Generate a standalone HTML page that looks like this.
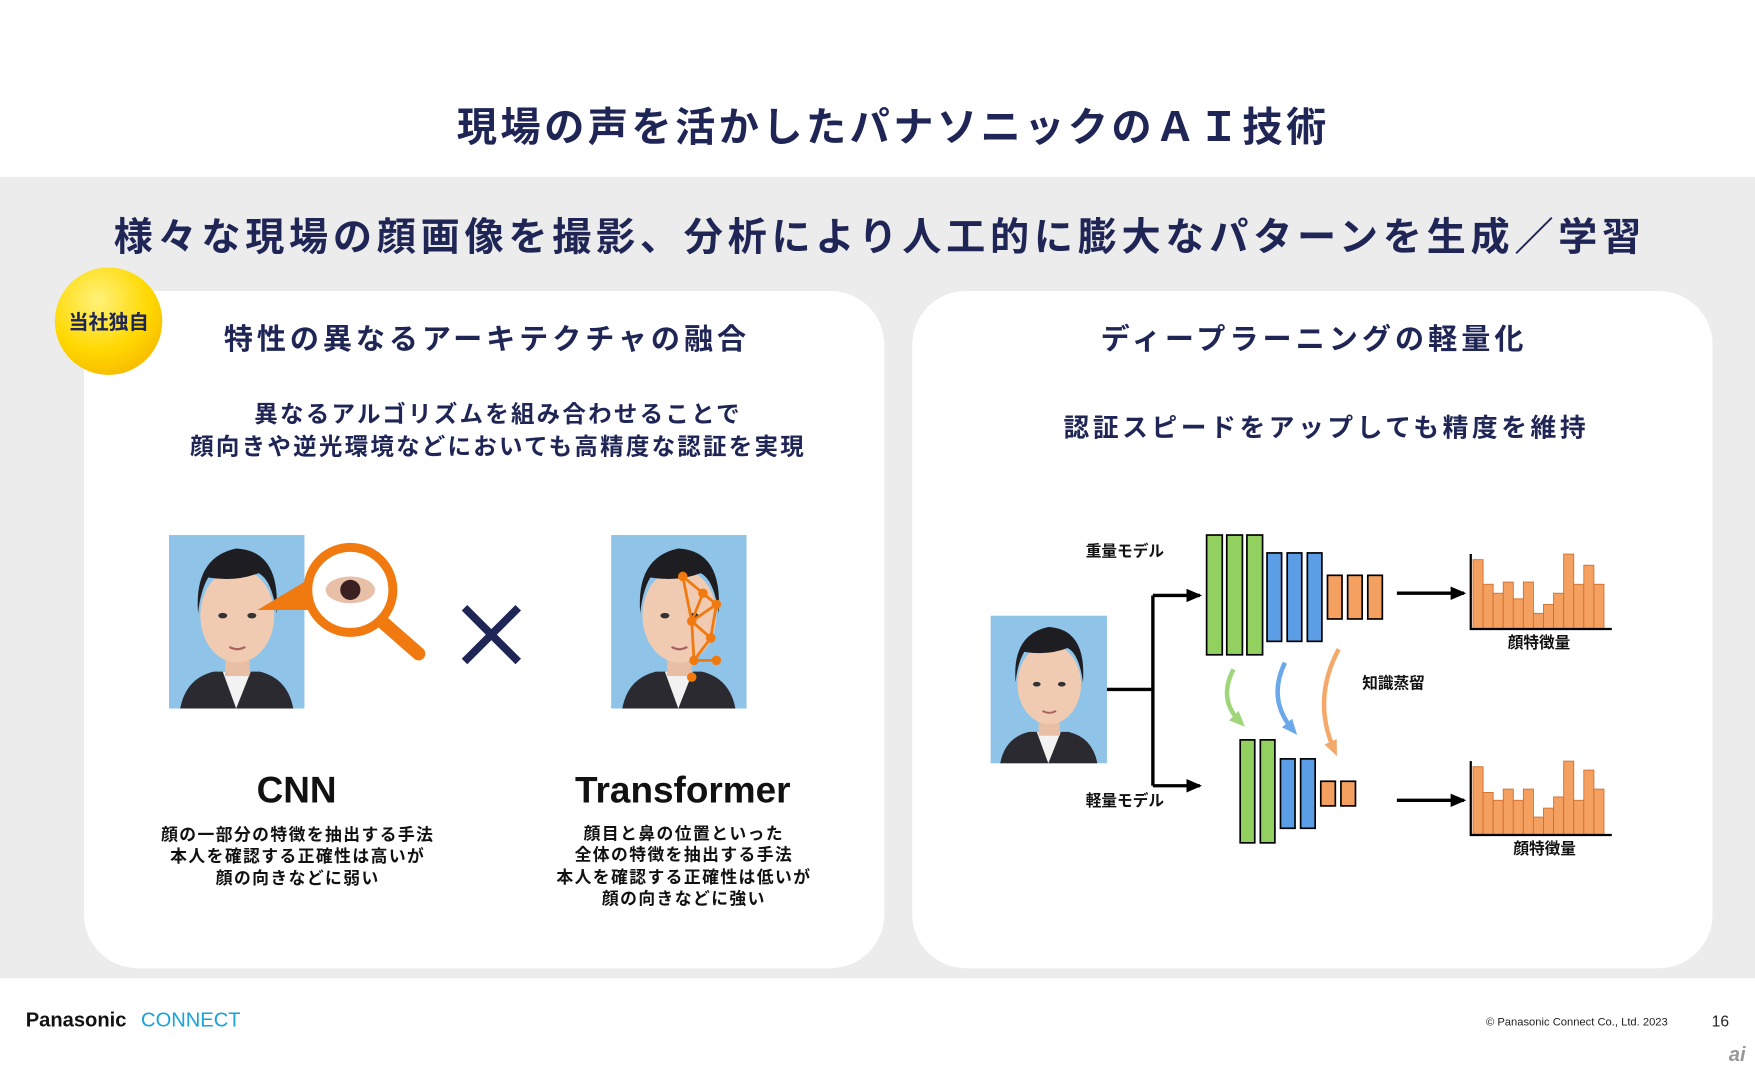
<!DOCTYPE html>
<html><head><meta charset="utf-8"><style>
html,body{margin:0;padding:0;width:1755px;height:1072px;overflow:hidden;background:#fff}
#w{width:1568px;height:958px;transform:scale(1.1193);transform-origin:0 0;position:relative}
svg text{font-family:"Liberation Sans","Noto Sans CJK JP",sans-serif;font-weight:bold}
</style></head><body><div id="w">
<svg width="1568" height="958" viewBox="0 0 1568 958" xmlns="http://www.w3.org/2000/svg">
<defs>
<radialGradient id="yg" cx="0.4" cy="0.3" r="0.8"><stop offset="0" stop-color="#fff27a"/><stop offset="0.6" stop-color="#ffd800"/><stop offset="1" stop-color="#f5b400"/></radialGradient>
<marker id="ah" markerUnits="userSpaceOnUse" markerWidth="14" markerHeight="12" refX="12" refY="6" orient="auto"><path d="M0,0 L14,6 L0,12 z" fill="#000"/></marker>
<marker id="ag" markerUnits="userSpaceOnUse" markerWidth="14" markerHeight="12" refX="8" refY="6" orient="auto"><path d="M0,0 L14,6 L0,12 z" fill="#9fd67a"/></marker>
<marker id="ab" markerUnits="userSpaceOnUse" markerWidth="14" markerHeight="12" refX="8" refY="6" orient="auto"><path d="M0,0 L14,6 L0,12 z" fill="#6aa8ea"/></marker>
<marker id="ao" markerUnits="userSpaceOnUse" markerWidth="14" markerHeight="12" refX="8" refY="6" orient="auto"><path d="M0,0 L14,6 L0,12 z" fill="#f4a86a"/></marker>
<g id="face">
<rect x="0" y="0" width="121" height="155" fill="#8fc4e8"/>
<path d="M10,155 Q15,128 40,122 L81,122 Q106,128 111,155 Z" fill="#2a2a30"/>
<path d="M48,122 L60,155 L73,122 Z" fill="#f2f2f2"/>
<rect x="50" y="100" width="22" height="26" fill="#e8bfa5"/>
<ellipse cx="61" cy="72" rx="33" ry="42" fill="#f0cbb2"/>
<path d="M26,70 Q22,20 60,12 Q100,14 96,70 Q92,40 80,34 Q60,42 35,38 Q28,50 26,70 Z" fill="#1e1e22"/>
<ellipse cx="48" cy="72" rx="4" ry="2.5" fill="#333"/><ellipse cx="74" cy="72" rx="4" ry="2.5" fill="#333"/>
<path d="M54,100 Q61,104 68,100" stroke="#a86060" stroke-width="2" fill="none"/>
</g>
</defs>
<rect x="0" y="158" width="1568" height="716" fill="#ececec"/>
<text x="798" y="126" text-anchor="middle" font-size="36" letter-spacing="3" fill="#1f2656">現場の声を活かしたパナソニックのＡＩ技術</text>
<text x="786" y="224" text-anchor="middle" font-size="35" letter-spacing="4.2" fill="#1f2656">様々な現場の顔画像を撮影、分析により人工的に膨大なパターンを生成／学習</text>
<rect x="75" y="260" width="715" height="605" rx="48" fill="#fff"/>
<rect x="815" y="260" width="715" height="605" rx="48" fill="#fff"/>
<circle cx="97" cy="287" r="48" fill="url(#yg)"/>
<text x="97" y="294" text-anchor="middle" font-size="18" fill="#1f2656">当社独自</text>
<text x="435" y="312" text-anchor="middle" font-size="26" letter-spacing="3.5" fill="#1f2656">特性の異なるアーキテクチャの融合</text>
<text x="445" y="377" text-anchor="middle" font-size="21" letter-spacing="2" fill="#1f2656">異なるアルゴリズムを組み合わせることで</text>
<text x="445" y="406" text-anchor="middle" font-size="21" letter-spacing="2" fill="#1f2656">顔向きや逆光環境などにおいても高精度な認証を実現</text>
<use href="#face" x="151" y="478"/>
<path d="M230,545 L280,515 L285,545 Z" fill="#f07a10"/>
<circle cx="313" cy="527" r="38" fill="#fff" stroke="#f07a10" stroke-width="8"/>
<ellipse cx="313" cy="527" rx="22" ry="12" fill="#e8c0a8"/><circle cx="313" cy="527" r="9" fill="#3a2020"/>
<line x1="342" y1="556" x2="374" y2="584" stroke="#f07a10" stroke-width="12" stroke-linecap="round"/>
<path d="M415,543 L463,591 M463,543 L415,591" stroke="#1f2656" stroke-width="7"/>
<use href="#face" x="546" y="478"/>
<g stroke="#f07a10" stroke-width="2.5" fill="#f07a10">
<path d="M610,515 L628,530 L640,540 L618,555 L635,570 L620,590 L640,590 M610,515 L618,555 L620,590 M628,530 L618,555 M640,540 L635,570" fill="none"/>
<circle cx="610" cy="515" r="3"/><circle cx="628" cy="530" r="3"/><circle cx="640" cy="540" r="3"/><circle cx="618" cy="555" r="3"/><circle cx="635" cy="570" r="3"/><circle cx="620" cy="590" r="3"/><circle cx="640" cy="590" r="3"/><circle cx="618" cy="605" r="3"/>
</g>
<text x="265" y="717" text-anchor="middle" font-size="33" fill="#111">CNN</text>
<text x="610" y="717" text-anchor="middle" font-size="33" fill="#111">Transformer</text>
<g font-size="15" fill="#111" text-anchor="middle" letter-spacing="1.3">
<text x="266" y="751">顔の一部分の特徴を抽出する手法</text>
<text x="266" y="770">本人を確認する正確性は高いが</text>
<text x="266" y="790">顔の向きなどに弱い</text>
<text x="611" y="750">顔目と鼻の位置といった</text>
<text x="611" y="769">全体の特徴を抽出する手法</text>
<text x="611" y="789">本人を確認する正確性は低いが</text>
<text x="611" y="808">顔の向きなどに強い</text>
</g>
<text x="1174" y="312" text-anchor="middle" font-size="26" letter-spacing="3.6" fill="#1f2656">ディープラーニングの軽量化</text>
<text x="1185" y="390" text-anchor="middle" font-size="23" letter-spacing="3.2" fill="#1f2656">認証スピードをアップしても精度を維持</text>
<svg x="885" y="550" width="104" height="132" viewBox="0 0 121 155" preserveAspectRatio="none"><use href="#face"/></svg>
<g stroke="#000" stroke-width="3" fill="none">
<path d="M989,616 L1030,616 M1030,532 L1030,702"/>
<path d="M1030,532 L1072,532" marker-end="url(#ah)"/>
<path d="M1030,702 L1072,702" marker-end="url(#ah)"/>
<path d="M1248,530 L1308,530" marker-end="url(#ah)"/>
<path d="M1248,715 L1308,715" marker-end="url(#ah)"/>
</g>
<g stroke="#000" stroke-width="1.5">
<g fill="#92d060"><rect x="1078" y="478" width="14" height="107"/><rect x="1096" y="478" width="14" height="107"/><rect x="1114" y="478" width="14" height="107"/>
<rect x="1108" y="661" width="13" height="92"/><rect x="1126" y="661" width="13" height="92"/></g>
<g fill="#5b9ee6"><rect x="1132" y="494" width="13" height="79"/><rect x="1150" y="494" width="13" height="79"/><rect x="1168" y="494" width="13" height="79"/>
<rect x="1144" y="678" width="13" height="62"/><rect x="1162" y="678" width="13" height="62"/></g>
<g fill="#f4a060"><rect x="1186" y="514" width="13" height="39"/><rect x="1204" y="514" width="13" height="39"/><rect x="1222" y="514" width="13" height="39"/>
<rect x="1180" y="698" width="13" height="22"/><rect x="1198" y="698" width="13" height="22"/></g>
</g>
<g fill="#f4a060" stroke="#d07030" stroke-width="0.8">
<rect x="1316" y="500" width="9" height="62"/><rect x="1325" y="522" width="9" height="40"/><rect x="1334" y="530" width="9" height="32"/><rect x="1343" y="520" width="9" height="42"/><rect x="1352" y="535" width="9" height="27"/><rect x="1361" y="520" width="9" height="42"/><rect x="1370" y="548" width="9" height="14"/><rect x="1379" y="540" width="9" height="22"/><rect x="1388" y="530" width="9" height="32"/><rect x="1397" y="495" width="9" height="67"/><rect x="1406" y="522" width="9" height="40"/><rect x="1415" y="505" width="9" height="57"/><rect x="1424" y="522" width="9" height="40"/>
<rect x="1316" y="685" width="9" height="61"/><rect x="1325" y="708" width="9" height="38"/><rect x="1334" y="715" width="9" height="31"/><rect x="1343" y="705" width="9" height="41"/><rect x="1352" y="715" width="9" height="31"/><rect x="1361" y="705" width="9" height="41"/><rect x="1370" y="730" width="9" height="16"/><rect x="1379" y="722" width="9" height="24"/><rect x="1388" y="712" width="9" height="34"/><rect x="1397" y="680" width="9" height="66"/><rect x="1406" y="715" width="9" height="31"/><rect x="1415" y="688" width="9" height="58"/><rect x="1424" y="705" width="9" height="41"/>
</g>
<g stroke="#000" stroke-width="2"><path d="M1314,495 L1314,562 L1440,562 M1314,680 L1314,746 L1440,746" fill="none"/></g>
<g fill="none" stroke-width="4">
<path d="M1102,598 Q1088,625 1108,645" stroke="#9fd67a" marker-end="url(#ag)"/>
<path d="M1148,592 Q1132,625 1155,652" stroke="#6aa8ea" marker-end="url(#ab)"/>
<path d="M1196,580 Q1172,625 1192,670" stroke="#f4a86a" marker-end="url(#ao)"/>
</g>
<g font-size="14" fill="#111">
<text x="1005" y="497" text-anchor="middle">重量モデル</text>
<text x="1005" y="720" text-anchor="middle">軽量モデル</text>
<text x="1245" y="615" text-anchor="middle">知識蒸留</text>
<text x="1375" y="579" text-anchor="middle">顔特徴量</text>
<text x="1380" y="763" text-anchor="middle">顔特徴量</text>
</g>
<text x="23" y="917" font-size="18" fill="#111">Panasonic</text>
<text x="126" y="917" font-size="18" fill="#1aa3d8" style="font-weight:normal">CONNECT</text>
<text x="1490" y="916" text-anchor="end" font-size="10" fill="#222" style="font-weight:normal">© Panasonic Connect Co., Ltd. 2023</text>
<text x="1537" y="917" text-anchor="middle" font-size="14" fill="#222" style="font-weight:normal">16</text>
<text x="1552" y="948" text-anchor="middle" font-size="18" fill="#999" font-style="italic">ai</text>
</svg>
</div></body></html>
